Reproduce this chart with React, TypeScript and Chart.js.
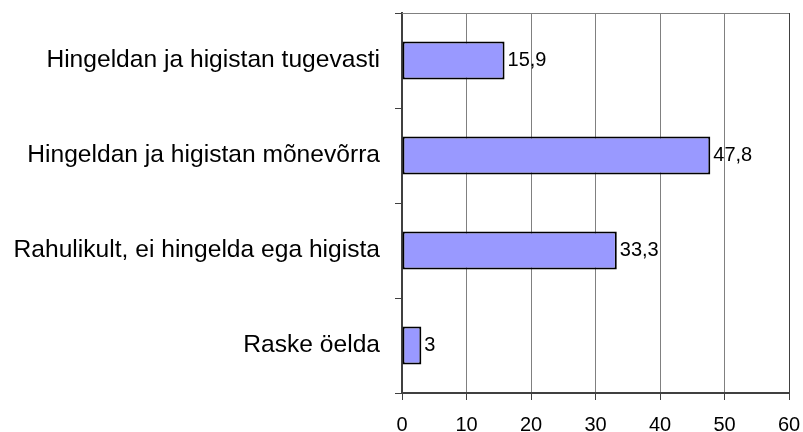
import React, { useEffect, useRef } from "react";
import { Chart, registerables } from "chart.js";

Chart.register(...registerables);

const categories = [
  "Hingeldan ja higistan tugevasti",
  "Hingeldan ja higistan mõnevõrra",
  "Rahulikult, ei hingelda ega higista",
  "Raske öelda",
];
const values = [15.9, 47.8, 33.3, 3];
const xTicks = [0, 10, 20, 30, 40, 50, 60];

const FONT = "'Liberation Sans', Arial, sans-serif";

const valueLabels = {
  id: "valueLabels",
  afterDatasetsDraw(chart: any) {
    const ctx = chart.ctx;
    const meta = chart.getDatasetMeta(0);
    ctx.save();
    ctx.font = `20px ${FONT}`;
    ctx.fillStyle = "#000";
    ctx.textAlign = "left";
    ctx.textBaseline = "middle";
    meta.data.forEach((bar: any, i: number) => {
      const txt = String(values[i]).replace(".", ",");
      ctx.fillText(txt, bar.x + 3, bar.y);
    });
    ctx.restore();
  },
};

const topLine = {
  id: "topLine",
  beforeDatasetsDraw(chart: any) {
    const { ctx, chartArea } = chart;
    ctx.save();
    ctx.strokeStyle = "#808080";
    ctx.lineWidth = 1;
    ctx.beginPath();
    ctx.moveTo(chartArea.left, Math.round(chartArea.top) + 0.5);
    ctx.lineTo(chartArea.right, Math.round(chartArea.top) + 0.5);
    ctx.stroke();
    ctx.restore();
  },
};

const zeroPad = (s: any) => {
  s.paddingTop = 0;
  s.paddingBottom = 0;
  s.paddingLeft = 0;
  s.paddingRight = 0;
};

export default function App() {
  const ref = useRef<HTMLCanvasElement>(null);
  useEffect(() => {
    document.body.style.margin = "0";
    const chart = new Chart(ref.current!, {
      type: "bar",
      data: {
        labels: categories,
        datasets: [
          {
            data: values,
            backgroundColor: "#9999FF",
            borderColor: "#000000",
            borderWidth: 2,
            borderSkipped: false,
            barPercentage: 0.4,
            categoryPercentage: 1,
          },
        ],
      },
      options: {
        indexAxis: "y",
        responsive: false,
        animation: false,
        layout: { padding: { top: 13, right: 14, left: 0, bottom: 0 } },
        plugins: {
          legend: { display: false },
          tooltip: { enabled: false },
        },
        scales: {
          x: {
            min: 0,
            max: 60,
            afterBuildTicks: (s: any) => {
              s.ticks = xTicks.map((v) => ({ value: v }));
            },
            afterFit: (s: any) => {
              s.height = 39;
              zeroPad(s);
            },
            ticks: {
              color: "#000",
              font: { family: FONT, size: 20 },
              padding: 13,
              maxRotation: 0,
            },
            grid: {
              color: (c: any) => (c.tick && c.tick.value === 60 ? "#404040" : "#808080"),
              lineWidth: 1,
              tickLength: 7,
              tickColor: "#404040",
            },
            border: { color: "#404040", width: 2 },
          },
          y: {
            afterFit: (s: any) => {
              s.width = 402;
              zeroPad(s);
            },
            ticks: {
              color: "#000",
              font: { family: FONT, size: 24.6 },
              padding: 15,
            },
            grid: {
              offset: true,
              drawOnChartArea: false,
              tickLength: 7,
              tickColor: "#404040",
              lineWidth: 1,
            },
            border: { color: "#404040", width: 2 },
          },
        },
      },
      plugins: [topLine, valueLabels],
    });
    return () => chart.destroy();
  }, []);
  return (
    <div style={{ width: 803, height: 432 }}>
      <canvas ref={ref} width={803} height={432} />
    </div>
  );
}
